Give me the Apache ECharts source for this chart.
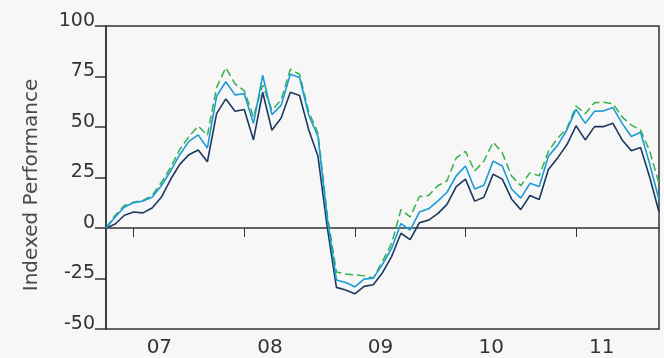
<!DOCTYPE html>
<html>
<head>
<meta charset="utf-8">
<script src="https://cdn.jsdelivr.net/npm/echarts@6/dist/echarts.min.js"></script>
<style>
html,body{margin:0;padding:0;background:#f7f7f7;}
#chart{width:664px;height:358px;}
</style>
</head>
<body>
<div id="chart"></div>
<script>
// Monthly points, Oct 2006 .. Oct 2011
var startYear = 2006, startMonth = 10, monthCount = 61;
var yearLabels = ['07', '08', '09', '10', '11'];
var yTickLabels = ['-50', '-25', '0', '25', '50', '75', '100'];

var seriesDark = [0, 2, 6.3, 7.9, 7.5, 9.9, 15.2, 24, 31.5, 36.3, 38.6, 32.8,
  56.6, 63.9, 57.8, 58.7, 43.6, 67.2, 48.4, 54.5, 67.2, 65.6, 48.5, 35.5,
  0.5, -29.4, -30.7, -32.6, -28.9, -28.1, -22.1, -14, -2.6, -5.8, 2.6, 3.9,
  7.1, 11.7, 20.5, 24.2, 13.3, 15.2, 26.6, 24.2, 14.4, 9.1, 16.1, 14.1,
  29, 34.7, 41.2, 50.6, 43.6, 50.2, 50.2, 51.8, 43.6, 38.3, 39.9, 25, 7.9];
var seriesBlue = [0, 5.5, 10.4, 12.5, 13.3, 15.2, 20.9, 28.2, 36.3, 42.9, 46.1, 39.6,
  65.3, 72.4, 65.9, 66.5, 51.8, 75.6, 56.1, 60.7, 76.1, 74.5, 55.8, 45.3,
  5, -25.7, -27, -29.1, -25.3, -24.8, -18, -9.9, 2.2, -1, 7.9, 9.5,
  13.3, 17.7, 25.8, 30.7, 19.3, 21.2, 33.1, 30.7, 19.3, 14.8, 22.1, 20.5,
  35.5, 40.9, 48.5, 58.7, 51.8, 57.8, 58, 59.6, 51.8, 45.3, 47.4, 31.5, 14];
var seriesGreen = [0, 6.3, 11.2, 12.8, 13.6, 16.1, 22.5, 29.9, 38.8, 45.3, 50.5, 45.8,
  69.6, 79.4, 71.3, 68, 55, 70.8, 58.3, 63.3, 78.6, 76.1, 57.5, 46.9,
  7, -21.8, -22.8, -23.2, -23.7, -24.8, -16.4, -7.5, 9.1, 5.5, 15.6, 16.1,
  20.9, 23.4, 34.7, 38, 28.2, 33.1, 42.5, 37.2, 25.8, 20.9, 27.4, 25.8,
  38, 44.5, 49.3, 60.4, 56.6, 62, 62.3, 61.5, 55, 50.9, 48.5, 38, 22];

var categories = [];
for (var k = 0; k < monthCount; k++) {
  var m = startMonth - 1 + k;
  var y = startYear + Math.floor(m / 12);
  var mm = (m % 12) + 1;
  categories.push(y + '-' + (mm < 10 ? '0' + mm : mm));
}
function isJan(idx) { return categories[idx].slice(5) === '01'; }
function yearLabel(val) {
  var yy = val.slice(2, 4);
  return yearLabels.indexOf(yy) >= 0 ? yy : '';
}

var chart = echarts.init(document.getElementById('chart'), null, {renderer: 'canvas'});
var font = 'DejaVu Sans';
chart.setOption({
  backgroundColor: '#f7f7f7',
  animation: false,
  grid: {left: 106, top: 26, right: 5, bottom: 24, show: true, borderColor: '#333', borderWidth: 1.5, backgroundColor: 'transparent'},
  graphic: [{
    type: 'text', x: 32, y: 185, rotation: Math.PI / 2,
    style: {text: 'Indexed Performance', font: '20px "DejaVu Sans"', fill: '#4a4a4a', align: 'center', verticalAlign: 'middle'}
  }],
  xAxis: {
    type: 'category', data: categories, boundaryGap: false,
    axisLine: {show: true, lineStyle: {color: '#333', width: 1.5}},
    axisTick: {show: true, length: 9, interval: function (i) { return isJan(i); }, lineStyle: {color: '#333', width: 1}},
    axisLabel: {
      interval: function (i) { return isJan(i); },
      formatter: function (v) { return yearLabel(v); },
      align: 'left', padding: [0, 0, 0, 13], margin: 9,
      fontFamily: font, fontSize: 20, color: '#333', lineHeight: 20
    },
    splitLine: {show: false}
  },
  yAxis: {
    type: 'value', min: -50, max: 100, interval: 25,
    axisLine: {show: true, lineStyle: {color: '#333', width: 1.5}},
    axisTick: {show: true, length: 11, lineStyle: {color: '#333', width: 1.5}},
    axisLabel: {
      margin: 11, verticalAlign: 'bottom', lineHeight: 10,
      fontFamily: font, fontSize: 19, color: '#333',
      formatter: function (v) { var s = String(v); return yTickLabels.indexOf(s) >= 0 ? s : ''; }
    },
    splitLine: {show: false}
  },
  series: [
    {name: 'Series A', type: 'line', data: seriesDark, symbol: 'none', lineStyle: {color: '#1d3a5e', width: 1.6}, z: 3},
    {name: 'Series B', type: 'line', data: seriesBlue, symbol: 'none', lineStyle: {color: '#1a9bd7', width: 1.6}, z: 4},
    {name: 'Series C', type: 'line', data: seriesGreen, symbol: 'none', lineStyle: {color: '#35b24a', width: 1.5, type: [8, 4]}, z: 2}
  ]
});
</script>
</body>
</html>
